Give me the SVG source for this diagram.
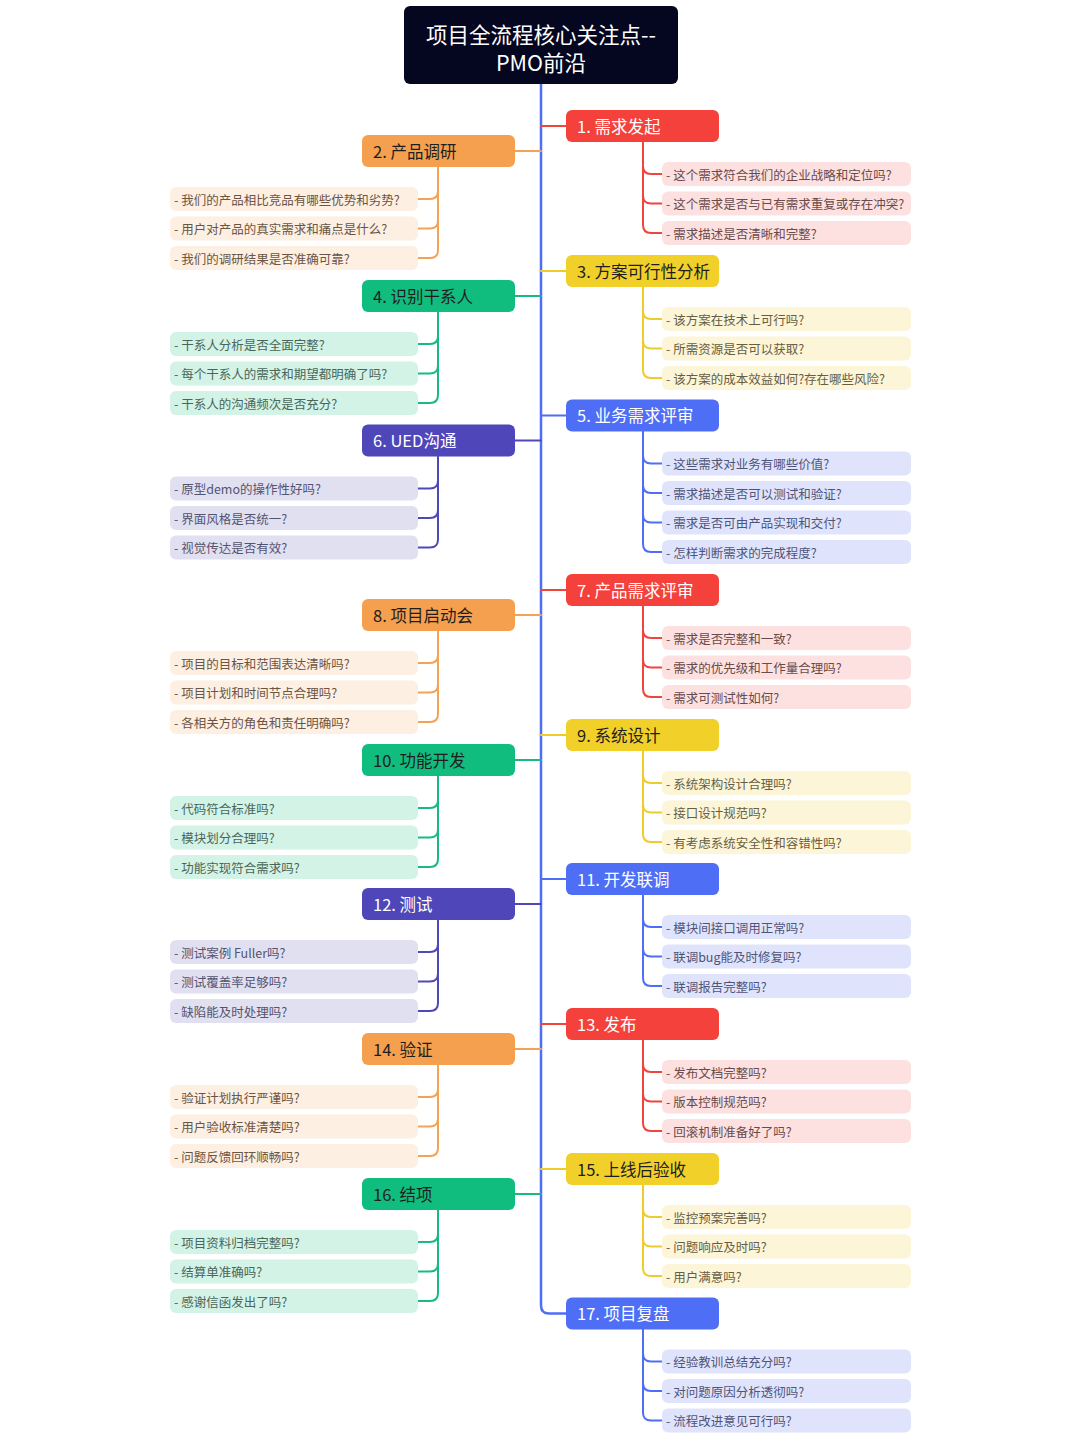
<svg xmlns="http://www.w3.org/2000/svg" width="1080" height="1440" viewBox="0 0 1080 1440">
<style>
text{font-family:"Noto Sans CJK SC","Noto Sans",sans-serif;dominant-baseline:central}
.root{fill:#05061f}
.rt{fill:#fff;font-size:21.5px;font-weight:400;text-anchor:middle}
.nt{font-size:16.5px;font-weight:400}
.ct{font-size:12.5px}
.w{fill:#fff}.d{fill:#1e1e1e}
.red{fill:#f5413b}.ora{fill:#f5a04f}.yel{fill:#f2d02a}.gre{fill:#10bd7e}.blu{fill:#4e6ef6}.pur{fill:#4e46b9}
.cred{fill:#fde1e0}.cora{fill:#fdefe2}.cyel{fill:#fdf5d8}.cgre{fill:#d3f3e6}.cblu{fill:#dfe4fc}.cpur{fill:#e1e0f1}
.tred{fill:#6a4a4a}.tora{fill:#6a5545}.tyel{fill:#675e42}.tgre{fill:#4a665a}.tblu{fill:#4f5478}.tpur{fill:#545370}
.l{fill:none;stroke-width:2;stroke-linecap:round}
.sred{stroke:#f0453f}.sora{stroke:#f4a256}.syel{stroke:#efcc2e}.sgre{stroke:#17bb80}.sblu{stroke:#4e6ef6}.spur{stroke:#5048b8}
</style>
<g id="connectors">
<path class="l sblu" style="stroke-width:2.5" d="M541,84 V1305.5 Q541,1313.5 549,1313.5 H566"/>
<path class="l sred" d="M541,126 H566 M541,590 H566 M541,1024 H566"/>
<path class="l syel" d="M541,271 H566 M541,735 H566 M541,1169 H566"/>
<path class="l sblu" d="M541,415.5 H566 M541,879 H566"/>
<path class="l sora" d="M541,151 H515 M541,615 H515 M541,1049 H515"/>
<path class="l sgre" d="M541,296 H515 M541,760 H515 M541,1194 H515"/>
<path class="l spur" d="M541,440.5 H515 M541,904 H515"/>
<path class="l sred" d="M643,142 V225 Q643,233 651,233 H662 M643,166 Q643,174 651,174 H662 M643,195.5 Q643,203.5 651,203.5 H662"/>
<path class="l syel" d="M643,287 V370 Q643,378 651,378 H662 M643,311 Q643,319 651,319 H662 M643,340.5 Q643,348.5 651,348.5 H662"/>
<path class="l sblu" d="M643,431.5 V544 Q643,552 651,552 H662 M643,455.5 Q643,463.5 651,463.5 H662 M643,485 Q643,493 651,493 H662 M643,514.5 Q643,522.5 651,522.5 H662"/>
<path class="l sred" d="M643,606 V689 Q643,697 651,697 H662 M643,630 Q643,638 651,638 H662 M643,659.5 Q643,667.5 651,667.5 H662"/>
<path class="l syel" d="M643,751 V834 Q643,842 651,842 H662 M643,775 Q643,783 651,783 H662 M643,804.5 Q643,812.5 651,812.5 H662"/>
<path class="l sblu" d="M643,895 V978 Q643,986 651,986 H662 M643,919 Q643,927 651,927 H662 M643,948.5 Q643,956.5 651,956.5 H662"/>
<path class="l sred" d="M643,1040 V1123 Q643,1131 651,1131 H662 M643,1064 Q643,1072 651,1072 H662 M643,1093.5 Q643,1101.5 651,1101.5 H662"/>
<path class="l syel" d="M643,1185 V1268 Q643,1276 651,1276 H662 M643,1209 Q643,1217 651,1217 H662 M643,1238.5 Q643,1246.5 651,1246.5 H662"/>
<path class="l sblu" d="M643,1329.5 V1412.5 Q643,1420.5 651,1420.5 H662 M643,1353.5 Q643,1361.5 651,1361.5 H662 M643,1383 Q643,1391 651,1391 H662"/>
<path class="l sora" d="M438,167 V250 Q438,258 430,258 H418 M438,191 Q438,199 430,199 H418 M438,220.5 Q438,228.5 430,228.5 H418"/>
<path class="l sgre" d="M438,312 V395 Q438,403 430,403 H418 M438,336 Q438,344 430,344 H418 M438,365.5 Q438,373.5 430,373.5 H418"/>
<path class="l spur" d="M438,456.5 V539.5 Q438,547.5 430,547.5 H418 M438,480.5 Q438,488.5 430,488.5 H418 M438,510 Q438,518 430,518 H418"/>
<path class="l sora" d="M438,631 V714 Q438,722 430,722 H418 M438,655 Q438,663 430,663 H418 M438,684.5 Q438,692.5 430,692.5 H418"/>
<path class="l sgre" d="M438,776 V859 Q438,867 430,867 H418 M438,800 Q438,808 430,808 H418 M438,829.5 Q438,837.5 430,837.5 H418"/>
<path class="l spur" d="M438,920 V1003 Q438,1011 430,1011 H418 M438,944 Q438,952 430,952 H418 M438,973.5 Q438,981.5 430,981.5 H418"/>
<path class="l sora" d="M438,1065 V1148 Q438,1156 430,1156 H418 M438,1089 Q438,1097 430,1097 H418 M438,1118.5 Q438,1126.5 430,1126.5 H418"/>
<path class="l sgre" d="M438,1210 V1293 Q438,1301 430,1301 H418 M438,1234 Q438,1242 430,1242 H418 M438,1263.5 Q438,1271.5 430,1271.5 H418"/>
</g>
<g id="root">
<rect class="root" x="404" y="6" width="274" height="78" rx="6"/>
<text class="rt" x="541" y="33">项目全流程核心关注点--</text>
<text class="rt" x="541" y="61">PMO前沿</text>
</g>
<g id="n1"><rect class="red" x="566" y="110" width="153" height="32" rx="6"/><text class="nt w" x="577" y="125.5">1. 需求发起</text></g>
<g id="n1a"><rect class="cred" x="662" y="162" width="249" height="24" rx="6"/><text class="ct tred" x="666" y="174">- 这个需求符合我们的企业战略和定位吗?</text></g>
<g id="n1b"><rect class="cred" x="662" y="191.5" width="249" height="24" rx="6"/><text class="ct tred" x="666" y="203.5">- 这个需求是否与已有需求重复或存在冲突?</text></g>
<g id="n1c"><rect class="cred" x="662" y="221" width="249" height="24" rx="6"/><text class="ct tred" x="666" y="233">- 需求描述是否清晰和完整?</text></g>

<g id="n2"><rect class="ora" x="362" y="135" width="153" height="32" rx="6"/><text class="nt d" x="373" y="150.5">2. 产品调研</text></g>
<g id="n2a"><rect class="cora" x="170" y="187" width="248" height="24" rx="6"/><text class="ct tora" x="174" y="199">- 我们的产品相比竞品有哪些优势和劣势?</text></g>
<g id="n2b"><rect class="cora" x="170" y="216.5" width="248" height="24" rx="6"/><text class="ct tora" x="174" y="228.5">- 用户对产品的真实需求和痛点是什么?</text></g>
<g id="n2c"><rect class="cora" x="170" y="246" width="248" height="24" rx="6"/><text class="ct tora" x="174" y="258">- 我们的调研结果是否准确可靠?</text></g>

<g id="n3"><rect class="yel" x="566" y="255" width="153" height="32" rx="6"/><text class="nt d" x="577" y="270.5">3. 方案可行性分析</text></g>
<g id="n3a"><rect class="cyel" x="662" y="307" width="249" height="24" rx="6"/><text class="ct tyel" x="666" y="319">- 该方案在技术上可行吗?</text></g>
<g id="n3b"><rect class="cyel" x="662" y="336.5" width="249" height="24" rx="6"/><text class="ct tyel" x="666" y="348.5">- 所需资源是否可以获取?</text></g>
<g id="n3c"><rect class="cyel" x="662" y="366" width="249" height="24" rx="6"/><text class="ct tyel" x="666" y="378">- 该方案的成本效益如何?存在哪些风险?</text></g>

<g id="n4"><rect class="gre" x="362" y="280" width="153" height="32" rx="6"/><text class="nt d" x="373" y="295.5">4. 识别干系人</text></g>
<g id="n4a"><rect class="cgre" x="170" y="332" width="248" height="24" rx="6"/><text class="ct tgre" x="174" y="344">- 干系人分析是否全面完整?</text></g>
<g id="n4b"><rect class="cgre" x="170" y="361.5" width="248" height="24" rx="6"/><text class="ct tgre" x="174" y="373.5">- 每个干系人的需求和期望都明确了吗?</text></g>
<g id="n4c"><rect class="cgre" x="170" y="391" width="248" height="24" rx="6"/><text class="ct tgre" x="174" y="403">- 干系人的沟通频次是否充分?</text></g>

<g id="n5"><rect class="blu" x="566" y="399.5" width="153" height="32" rx="6"/><text class="nt w" x="577" y="415">5. 业务需求评审</text></g>
<g id="n5a"><rect class="cblu" x="662" y="451.5" width="249" height="24" rx="6"/><text class="ct tblu" x="666" y="463.5">- 这些需求对业务有哪些价值?</text></g>
<g id="n5b"><rect class="cblu" x="662" y="481" width="249" height="24" rx="6"/><text class="ct tblu" x="666" y="493">- 需求描述是否可以测试和验证?</text></g>
<g id="n5c"><rect class="cblu" x="662" y="510.5" width="249" height="24" rx="6"/><text class="ct tblu" x="666" y="522.5">- 需求是否可由产品实现和交付?</text></g>
<g id="n5d"><rect class="cblu" x="662" y="540" width="249" height="24" rx="6"/><text class="ct tblu" x="666" y="552">- 怎样判断需求的完成程度?</text></g>

<g id="n6"><rect class="pur" x="362" y="424.5" width="153" height="32" rx="6"/><text class="nt w" x="373" y="440">6. UED沟通</text></g>
<g id="n6a"><rect class="cpur" x="170" y="476.5" width="248" height="24" rx="6"/><text class="ct tpur" x="174" y="488.5">- 原型demo的操作性好吗?</text></g>
<g id="n6b"><rect class="cpur" x="170" y="506" width="248" height="24" rx="6"/><text class="ct tpur" x="174" y="518">- 界面风格是否统一?</text></g>
<g id="n6c"><rect class="cpur" x="170" y="535.5" width="248" height="24" rx="6"/><text class="ct tpur" x="174" y="547.5">- 视觉传达是否有效?</text></g>

<g id="n7"><rect class="red" x="566" y="574" width="153" height="32" rx="6"/><text class="nt w" x="577" y="589.5">7. 产品需求评审</text></g>
<g id="n7a"><rect class="cred" x="662" y="626" width="249" height="24" rx="6"/><text class="ct tred" x="666" y="638">- 需求是否完整和一致?</text></g>
<g id="n7b"><rect class="cred" x="662" y="655.5" width="249" height="24" rx="6"/><text class="ct tred" x="666" y="667.5">- 需求的优先级和工作量合理吗?</text></g>
<g id="n7c"><rect class="cred" x="662" y="685" width="249" height="24" rx="6"/><text class="ct tred" x="666" y="697">- 需求可测试性如何?</text></g>

<g id="n8"><rect class="ora" x="362" y="599" width="153" height="32" rx="6"/><text class="nt d" x="373" y="614.5">8. 项目启动会</text></g>
<g id="n8a"><rect class="cora" x="170" y="651" width="248" height="24" rx="6"/><text class="ct tora" x="174" y="663">- 项目的目标和范围表达清晰吗?</text></g>
<g id="n8b"><rect class="cora" x="170" y="680.5" width="248" height="24" rx="6"/><text class="ct tora" x="174" y="692.5">- 项目计划和时间节点合理吗?</text></g>
<g id="n8c"><rect class="cora" x="170" y="710" width="248" height="24" rx="6"/><text class="ct tora" x="174" y="722">- 各相关方的角色和责任明确吗?</text></g>

<g id="n9"><rect class="yel" x="566" y="719" width="153" height="32" rx="6"/><text class="nt d" x="577" y="734.5">9. 系统设计</text></g>
<g id="n9a"><rect class="cyel" x="662" y="771" width="249" height="24" rx="6"/><text class="ct tyel" x="666" y="783">- 系统架构设计合理吗?</text></g>
<g id="n9b"><rect class="cyel" x="662" y="800.5" width="249" height="24" rx="6"/><text class="ct tyel" x="666" y="812.5">- 接口设计规范吗?</text></g>
<g id="n9c"><rect class="cyel" x="662" y="830" width="249" height="24" rx="6"/><text class="ct tyel" x="666" y="842">- 有考虑系统安全性和容错性吗?</text></g>

<g id="n10"><rect class="gre" x="362" y="744" width="153" height="32" rx="6"/><text class="nt d" x="373" y="759.5">10. 功能开发</text></g>
<g id="n10a"><rect class="cgre" x="170" y="796" width="248" height="24" rx="6"/><text class="ct tgre" x="174" y="808">- 代码符合标准吗?</text></g>
<g id="n10b"><rect class="cgre" x="170" y="825.5" width="248" height="24" rx="6"/><text class="ct tgre" x="174" y="837.5">- 模块划分合理吗?</text></g>
<g id="n10c"><rect class="cgre" x="170" y="855" width="248" height="24" rx="6"/><text class="ct tgre" x="174" y="867">- 功能实现符合需求吗?</text></g>

<g id="n11"><rect class="blu" x="566" y="863" width="153" height="32" rx="6"/><text class="nt w" x="577" y="878.5">11. 开发联调</text></g>
<g id="n11a"><rect class="cblu" x="662" y="915" width="249" height="24" rx="6"/><text class="ct tblu" x="666" y="927">- 模块间接口调用正常吗?</text></g>
<g id="n11b"><rect class="cblu" x="662" y="944.5" width="249" height="24" rx="6"/><text class="ct tblu" x="666" y="956.5">- 联调bug能及时修复吗?</text></g>
<g id="n11c"><rect class="cblu" x="662" y="974" width="249" height="24" rx="6"/><text class="ct tblu" x="666" y="986">- 联调报告完整吗?</text></g>

<g id="n12"><rect class="pur" x="362" y="888" width="153" height="32" rx="6"/><text class="nt w" x="373" y="903.5">12. 测试</text></g>
<g id="n12a"><rect class="cpur" x="170" y="940" width="248" height="24" rx="6"/><text class="ct tpur" x="174" y="952">- 测试案例 Fuller吗?</text></g>
<g id="n12b"><rect class="cpur" x="170" y="969.5" width="248" height="24" rx="6"/><text class="ct tpur" x="174" y="981.5">- 测试覆盖率足够吗?</text></g>
<g id="n12c"><rect class="cpur" x="170" y="999" width="248" height="24" rx="6"/><text class="ct tpur" x="174" y="1011">- 缺陷能及时处理吗?</text></g>

<g id="n13"><rect class="red" x="566" y="1008" width="153" height="32" rx="6"/><text class="nt w" x="577" y="1023.5">13. 发布</text></g>
<g id="n13a"><rect class="cred" x="662" y="1060" width="249" height="24" rx="6"/><text class="ct tred" x="666" y="1072">- 发布文档完整吗?</text></g>
<g id="n13b"><rect class="cred" x="662" y="1089.5" width="249" height="24" rx="6"/><text class="ct tred" x="666" y="1101.5">- 版本控制规范吗?</text></g>
<g id="n13c"><rect class="cred" x="662" y="1119" width="249" height="24" rx="6"/><text class="ct tred" x="666" y="1131">- 回滚机制准备好了吗?</text></g>

<g id="n14"><rect class="ora" x="362" y="1033" width="153" height="32" rx="6"/><text class="nt d" x="373" y="1048.5">14. 验证</text></g>
<g id="n14a"><rect class="cora" x="170" y="1085" width="248" height="24" rx="6"/><text class="ct tora" x="174" y="1097">- 验证计划执行严谨吗?</text></g>
<g id="n14b"><rect class="cora" x="170" y="1114.5" width="248" height="24" rx="6"/><text class="ct tora" x="174" y="1126.5">- 用户验收标准清楚吗?</text></g>
<g id="n14c"><rect class="cora" x="170" y="1144" width="248" height="24" rx="6"/><text class="ct tora" x="174" y="1156">- 问题反馈回环顺畅吗?</text></g>

<g id="n15"><rect class="yel" x="566" y="1153" width="153" height="32" rx="6"/><text class="nt d" x="577" y="1168.5">15. 上线后验收</text></g>
<g id="n15a"><rect class="cyel" x="662" y="1205" width="249" height="24" rx="6"/><text class="ct tyel" x="666" y="1217">- 监控预案完善吗?</text></g>
<g id="n15b"><rect class="cyel" x="662" y="1234.5" width="249" height="24" rx="6"/><text class="ct tyel" x="666" y="1246.5">- 问题响应及时吗?</text></g>
<g id="n15c"><rect class="cyel" x="662" y="1264" width="249" height="24" rx="6"/><text class="ct tyel" x="666" y="1276">- 用户满意吗?</text></g>

<g id="n16"><rect class="gre" x="362" y="1178" width="153" height="32" rx="6"/><text class="nt d" x="373" y="1193.5">16. 结项</text></g>
<g id="n16a"><rect class="cgre" x="170" y="1230" width="248" height="24" rx="6"/><text class="ct tgre" x="174" y="1242">- 项目资料归档完整吗?</text></g>
<g id="n16b"><rect class="cgre" x="170" y="1259.5" width="248" height="24" rx="6"/><text class="ct tgre" x="174" y="1271.5">- 结算单准确吗?</text></g>
<g id="n16c"><rect class="cgre" x="170" y="1289" width="248" height="24" rx="6"/><text class="ct tgre" x="174" y="1301">- 感谢信函发出了吗?</text></g>

<g id="n17"><rect class="blu" x="566" y="1297.5" width="153" height="32" rx="6"/><text class="nt w" x="577" y="1313">17. 项目复盘</text></g>
<g id="n17a"><rect class="cblu" x="662" y="1349.5" width="249" height="24" rx="6"/><text class="ct tblu" x="666" y="1361.5">- 经验教训总结充分吗?</text></g>
<g id="n17b"><rect class="cblu" x="662" y="1379" width="249" height="24" rx="6"/><text class="ct tblu" x="666" y="1391">- 对问题原因分析透彻吗?</text></g>
<g id="n17c"><rect class="cblu" x="662" y="1408.5" width="249" height="24" rx="6"/><text class="ct tblu" x="666" y="1420.5">- 流程改进意见可行吗?</text></g>
</svg>
